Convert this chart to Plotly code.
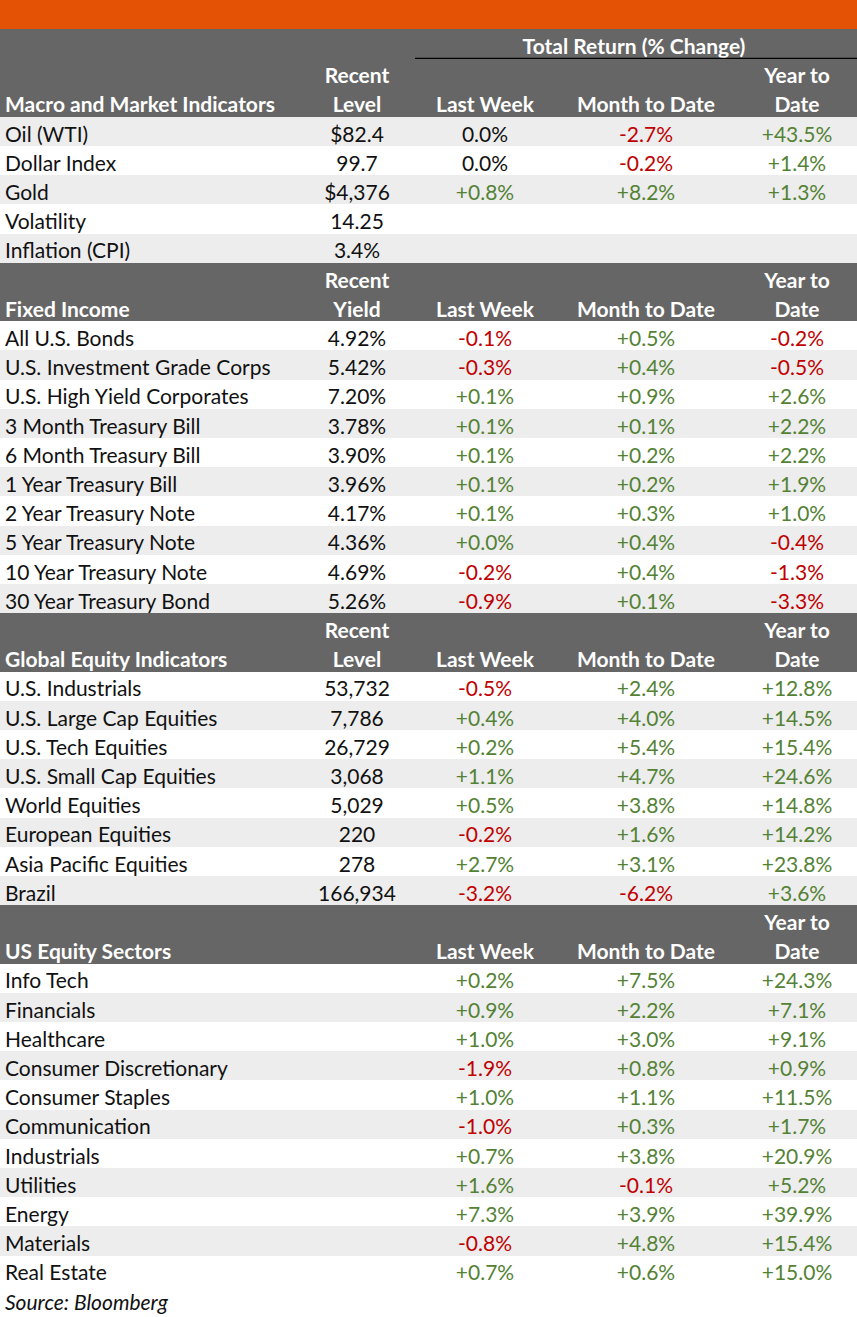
import plotly.graph_objects as go

# ---- data ----
macro_names = ["Oil (WTI)", "Dollar Index", "Gold", "Volatility", "Inflation (CPI)"]
macro_level = ["$82.4", "99.7", "$4,376", "14.25", "3.4%"]
macro_week = ["0.0%", "0.0%", "+0.8%", "", ""]
macro_mtd = ["-2.7%", "-0.2%", "+8.2%", "", ""]
macro_ytd = ["+43.5%", "+1.4%", "+1.3%", "", ""]

bond_names = ["All U.S. Bonds", "U.S. Investment Grade Corps", "U.S. High Yield Corporates",
              "3 Month Treasury Bill", "6 Month Treasury Bill", "1 Year Treasury Bill",
              "2 Year Treasury Note", "5 Year Treasury Note", "10 Year Treasury Note",
              "30 Year Treasury Bond"]
bond_yield = ["4.92%", "5.42%", "7.20%", "3.78%", "3.90%", "3.96%", "4.17%", "4.36%", "4.69%", "5.26%"]
bond_week = ["-0.1%", "-0.3%", "+0.1%", "+0.1%", "+0.1%", "+0.1%", "+0.1%", "+0.0%", "-0.2%", "-0.9%"]
bond_mtd = ["+0.5%", "+0.4%", "+0.9%", "+0.1%", "+0.2%", "+0.2%", "+0.3%", "+0.4%", "+0.4%", "+0.1%"]
bond_ytd = ["-0.2%", "-0.5%", "+2.6%", "+2.2%", "+2.2%", "+1.9%", "+1.0%", "-0.4%", "-1.3%", "-3.3%"]

equity_names = ["U.S. Industrials", "U.S. Large Cap Equities", "U.S. Tech Equities",
                "U.S. Small Cap Equities", "World Equities", "European Equities",
                "Asia Pacific Equities", "Brazil"]
equity_level = ["53,732", "7,786", "26,729", "3,068", "5,029", "220", "278", "166,934"]
equity_week = ["-0.5%", "+0.4%", "+0.2%", "+1.1%", "+0.5%", "-0.2%", "+2.7%", "-3.2%"]
equity_mtd = ["+2.4%", "+4.0%", "+5.4%", "+4.7%", "+3.8%", "+1.6%", "+3.1%", "-6.2%"]
equity_ytd = ["+12.8%", "+14.5%", "+15.4%", "+24.6%", "+14.8%", "+14.2%", "+23.8%", "+3.6%"]

sector_names = ["Info Tech", "Financials", "Healthcare", "Consumer Discretionary",
                "Consumer Staples", "Communication", "Industrials", "Utilities",
                "Energy", "Materials", "Real Estate"]
sector_week = ["+0.2%", "+0.9%", "+1.0%", "-1.9%", "+1.0%", "-1.0%", "+0.7%", "+1.6%", "+7.3%", "-0.8%", "+0.7%"]
sector_mtd = ["+7.5%", "+2.2%", "+3.0%", "+0.8%", "+1.1%", "+0.3%", "+3.8%", "-0.1%", "+3.9%", "+4.8%", "+0.6%"]
sector_ytd = ["+24.3%", "+7.1%", "+9.1%", "+0.9%", "+11.5%", "+1.7%", "+20.9%", "+5.2%", "+39.9%", "+15.4%", "+15.0%"]

sections = [
    ("Macro and Market Indicators", "Level", macro_names, macro_level, macro_week, macro_mtd, macro_ytd),
    ("Fixed Income", "Yield", bond_names, bond_yield, bond_week, bond_mtd, bond_ytd),
    ("Global Equity Indicators", "Level", equity_names, equity_level, equity_week, equity_mtd, equity_ytd),
    ("US Equity Sectors", None, sector_names, [""] * len(sector_names), sector_week, sector_mtd, sector_ytd),
]

# ---- styling ----
ORANGE = "#E35205"
HEAD_GRAY = "#666666"
STRIPE = "#EDEDED"
GREEN = "#548235"
RED = "#C00000"
INK = "#111111"
FONT = "Lato"
SIZE = 21
W, H = 857, 1317
ROW_PX = 29.2
TEXT_DY = 0.17  # text sits a touch below the row middle
COL_X = [5, 357, 485, 646, 797]
SPAN_X = (415, 857)


def value_color(v):
    if v.startswith("+"):
        return GREEN
    if v.startswith("-"):
        return RED
    return INK


# build the row list: kind + five cells
rows = [("banner", [""] * 5), ("span", [""] * 5)]
for title, recent, names, level, week, mtd, ytd in sections:
    rows.append(("head", ["", "Recent" if recent else "", "", "", "Year to"]))
    rows.append(("head", [title, recent or "", "Last Week", "Month to Date", "Date"]))
    for i in range(len(names)):
        rows.append(("data", [names[i], level[i], week[i], mtd[i], ytd[i]]))
rows.append(("source", ["Source: Bloomberg", "", "", "", ""]))

n = len(rows)
ys = list(range(n))

fills = []
for i, (kind, _) in enumerate(rows):
    if kind == "banner":
        fills.append(ORANGE)
    elif kind in ("span", "head"):
        fills.append(HEAD_GRAY)
    elif kind == "data" and i % 2 == 0:
        fills.append(STRIPE)
    else:
        fills.append("white")

fig = go.Figure()
fig.add_trace(go.Bar(
    y=ys, x=[W] * n, base=0, orientation="h", width=1,
    marker=dict(color=fills, line=dict(width=0)),
    hoverinfo="skip", showlegend=False,
))

for j in range(5):
    texts, colors = [], []
    for kind, cells in rows:
        t = cells[j]
        if kind == "head":
            texts.append(f"<b>{t}</b>" if t else "")
            colors.append("white")
        elif kind == "source":
            texts.append(f"<i>{t}</i>" if t else "")
            colors.append(INK)
        else:
            texts.append(t)
            colors.append(value_color(t) if j >= 2 else INK)
    fig.add_trace(go.Scatter(
        x=[COL_X[j]] * n, y=[y + TEXT_DY for y in ys], mode="text", text=texts,
        textposition="middle right" if j == 0 else "middle center",
        textfont=dict(family=FONT, size=SIZE, color=colors),
        hoverinfo="skip", showlegend=False,
    ))

# spanning "Total Return" header over the three return columns
fig.add_trace(go.Scatter(
    x=[(SPAN_X[0] + SPAN_X[1]) / 2 - 2], y=[1 + TEXT_DY], mode="text",
    text=["<b>Total Return (% Change)</b>"], textposition="middle center",
    textfont=dict(family=FONT, size=SIZE, color="white"),
    hoverinfo="skip", showlegend=False,
))
fig.add_shape(type="line", x0=SPAN_X[0], x1=SPAN_X[1], y0=1.5, y1=1.5,
              xref="x", yref="y", line=dict(color="black", width=1.2))

visible_rows = H / ROW_PX
fig.update_layout(
    width=W, height=H,
    margin=dict(l=0, r=0, t=0, b=0),
    paper_bgcolor="white", plot_bgcolor="white",
    xaxis=dict(range=[0, W], visible=False, fixedrange=True),
    yaxis=dict(range=[visible_rows - 0.5, -0.5], visible=False, fixedrange=True),
    bargap=0,
)

# drop the browser's default body margin so the table sits flush with the window
fig.write_html("out.html", config={"displayModeBar": False},
               post_script="document.body.style.margin='0';")
